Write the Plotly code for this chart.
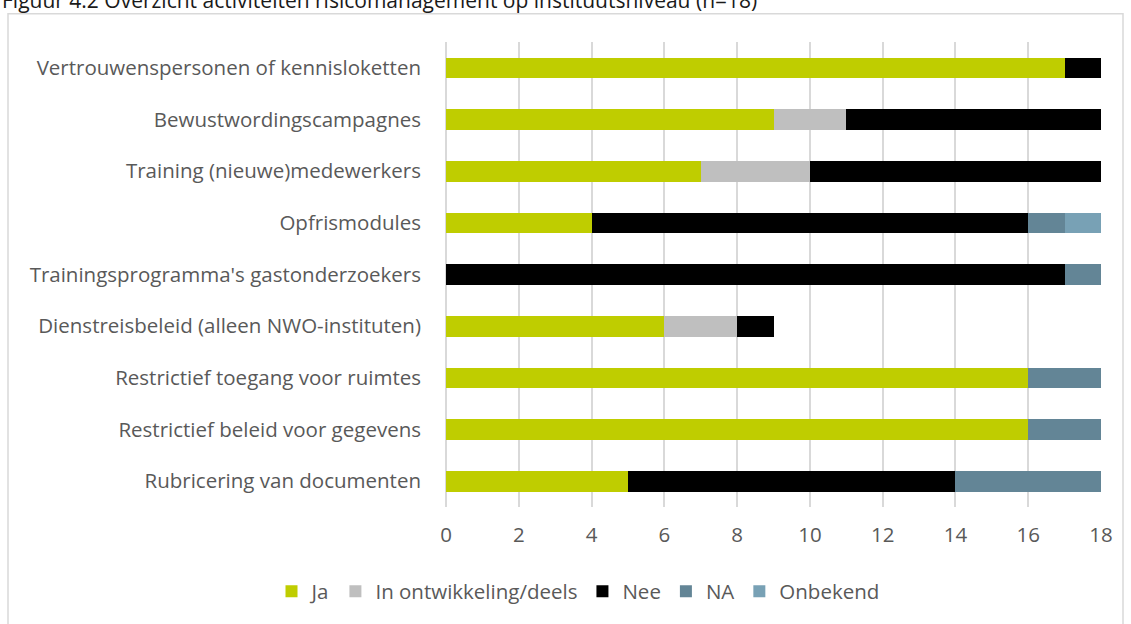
import plotly.graph_objects as go

categories = [
    "Vertrouwenspersonen of kennisloketten",
    "Bewustwordingscampagnes",
    "Training (nieuwe)medewerkers",
    "Opfrismodules",
    "Trainingsprogramma's gastonderzoekers",
    "Dienstreisbeleid (alleen NWO-instituten)",
    "Restrictief toegang voor ruimtes",
    "Restrictief beleid voor gegevens",
    "Rubricering van documenten",
]
ja = [17, 9, 7, 4, 0, 6, 16, 16, 5]
in_ontwikkeling = [0, 2, 3, 0, 0, 2, 0, 0, 0]
nee = [1, 7, 8, 12, 17, 1, 0, 0, 9]
na = [0, 0, 0, 1, 1, 0, 2, 2, 4]
onbekend = [0, 0, 0, 1, 0, 0, 0, 0, 0]
x_ticks = [0, 2, 4, 6, 8, 10, 12, 14, 16, 18]

series = [
    ("Ja", ja, "#bfcd00"),
    ("In ontwikkeling/deels", in_ontwikkeling, "#bfbfbf"),
    ("Nee", nee, "#000000"),
    ("NA", na, "#638596"),
    ("Onbekend", onbekend, "#78a1b5"),
]

FONT = "Open Sans"
FS = 20.5
W, H = 1131, 624
L, R, T, B = 446, 30, 42, 114
pw, ph = W - L - R, H - T - B

def px_x(p):
    return (p - L) / pw

def px_y(p):
    return (H - B - p) / ph

fig = go.Figure()
for name, vals, col in series:
    fig.add_trace(go.Bar(
        y=categories, x=vals, name=name, orientation="h",
        marker=dict(color=col, line=dict(width=0)),
    ))

fig.update_layout(
    width=W, height=H,
    barmode="stack", bargap=0.6,
    plot_bgcolor="white", paper_bgcolor="white",
    margin=dict(l=L, r=R, t=T, b=B, pad=0),
    font=dict(family=FONT, size=FS, color="#595959"),
    showlegend=True,
    legend=dict(
        orientation="h", x=px_x(578), xanchor="center",
        y=px_y(595), yanchor="middle",
        font=dict(size=FS, color="#595959"),
        traceorder="normal", itemwidth=30,
    ),
    xaxis=dict(
        range=[0, 18], tickvals=x_ticks, showgrid=True,
        gridcolor="#d9d9d9", gridwidth=1.5, zeroline=True,
        zerolinecolor="#d9d9d9", zerolinewidth=1.5,
        showline=False, ticks="", ticklabelstandoff=13,
        tickfont=dict(size=FS, color="#595959"),
    ),
    yaxis=dict(
        autorange="reversed", showgrid=False, showline=False,
        ticks="", ticklabelstandoff=24,
        tickfont=dict(size=FS, color="#595959"),
    ),
    shapes=[dict(
        type="rect", xref="paper", yref="paper",
        x0=px_x(8), x1=px_x(1123), y0=px_y(640), y1=px_y(13.5),
        line=dict(color="#d9d9d9", width=1.5), fillcolor="rgba(0,0,0,0)",
        layer="below",
    )],
    annotations=[dict(
        text="Figuur 4.2 Overzicht activiteiten risicomanagement op instituutsniveau (n=18)",
        xref="paper", yref="paper", x=px_x(0), y=px_y(-0.5),
        xanchor="left", yanchor="middle", showarrow=False,
        font=dict(family=FONT, size=21, color="#1a1a1a"),
    )],
)

fig.write_html("out.html", config={"displayModeBar": False},
               post_script="document.body.style.margin='0';")
